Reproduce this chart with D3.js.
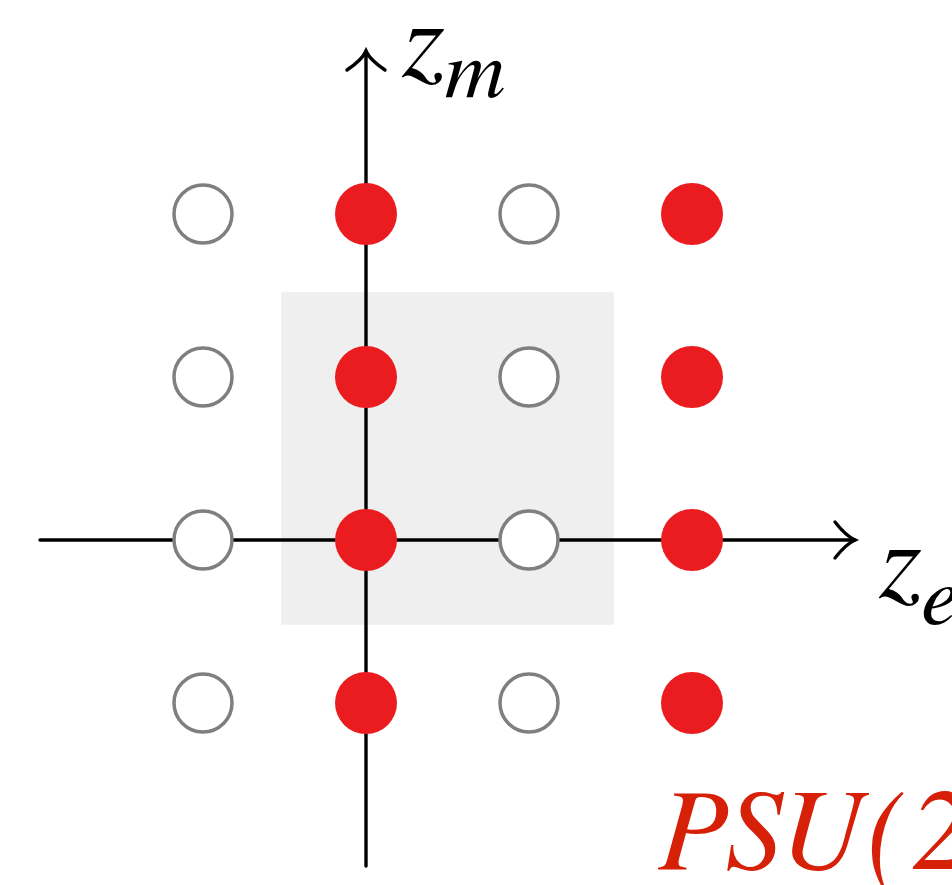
<!DOCTYPE html>
<html>
<head>
<meta charset="utf-8">
<script src="https://cdn.jsdelivr.net/npm/d3@7"></script>
<style>
  body { margin: 0; background: #fff; overflow: hidden; }
  svg { display: block; }
</style>
</head>
<body>
<script>
var width = 952,
    height = 885;

// lattice points (z_e, z_m)
var zeValues = [-1, 0, 1, 2];
var zmValues = [-1, 0, 1, 2];
// columns with even z_e are filled (red)
var filledZe = [0, 2];
// axis extent and the shaded cell
var axisRange = [-2, 3];
var cellRange = [-0.52, 1.52];
var title = "PSU(2";

var serif = "FreeSerif, 'Liberation Serif', 'Times New Roman', serif";

var svg = d3.select("body")
    .append("svg")
    .attr("width", width)
    .attr("height", height);

var x = d3.scaleLinear().domain([-1, 2]).range([203, 692]);
var y = d3.scaleLinear().domain([-1, 2]).range([703, 214]);

// shaded square
svg.append("rect")
    .attr("x", x(cellRange[0]))
    .attr("y", y(cellRange[1]))
    .attr("width", x(cellRange[1]) - x(cellRange[0]))
    .attr("height", y(cellRange[0]) - y(cellRange[1]))
    .attr("fill", "#efefef");

// axes
var g = svg.append("g")
    .attr("stroke", "#000")
    .attr("stroke-width", 3.4)
    .attr("fill", "none")
    .attr("stroke-linecap", "round");

g.append("line")
    .attr("x1", x(axisRange[0])).attr("x2", x(axisRange[1]))
    .attr("y1", y(0)).attr("y2", y(0));
g.append("line")
    .attr("x1", x(0)).attr("x2", x(0))
    .attr("y1", y(axisRange[0])).attr("y2", y(axisRange[1]));

// arrow heads
var hx = x(axisRange[1]), hy = y(0);
g.append("path")
    .attr("d", "M" + (hx - 20) + "," + (hy - 18) + " Q" + (hx - 9) + "," + (hy - 4) + " " + hx + "," + hy +
               " Q" + (hx - 9) + "," + (hy + 4) + " " + (hx - 20) + "," + (hy + 18));
var vx = x(0), vy = y(axisRange[1]);
g.append("path")
    .attr("d", "M" + (vx - 19) + "," + (vy + 19) + " Q" + (vx - 4) + "," + (vy + 9) + " " + vx + "," + vy +
               " Q" + (vx + 4) + "," + (vy + 9) + " " + (vx + 19) + "," + (vy + 19));

// lattice points
var points = [];
zmValues.forEach(function (m) {
    zeValues.forEach(function (e) {
        points.push({ze: e, zm: m, filled: filledZe.indexOf(e) >= 0});
    });
});

svg.selectAll("circle.pt")
    .data(points)
    .join("circle")
    .attr("class", "pt")
    .attr("cx", d => x(d.ze))
    .attr("cy", d => y(d.zm))
    .attr("r", d => d.filled ? 31 : 29)
    .attr("fill", d => d.filled ? "#ea1c20" : "#fff")
    .attr("stroke", d => d.filled ? "none" : "#7f7f7f")
    .attr("stroke-width", 3.5);

// axis labels
var lm = svg.append("text")
    .style("font-family", serif).style("font-style", "italic")
    .attr("x", 402).attr("y", 76)
    .attr("font-size", 110);
lm.append("tspan").text("z");
lm.append("tspan").attr("font-size", 84).attr("dy", 21).attr("dx", 0).text("m");

var le = svg.append("text")
    .style("font-family", serif).style("font-style", "italic")
    .attr("x", 879).attr("y", 597)
    .attr("font-size", 110);
le.append("tspan").text("z");
le.append("tspan").attr("font-size", 84).attr("dy", 27).attr("dx", 0).text("e");

// group label, runs off the right edge
svg.append("text")
    .style("font-family", serif).style("font-style", "italic")
    .attr("x", 658).attr("y", 869)
    .attr("font-size", 116)
    .attr("letter-spacing", 6)
    .attr("fill", "#d62008")
    .text(title);
</script>
</body>
</html>
